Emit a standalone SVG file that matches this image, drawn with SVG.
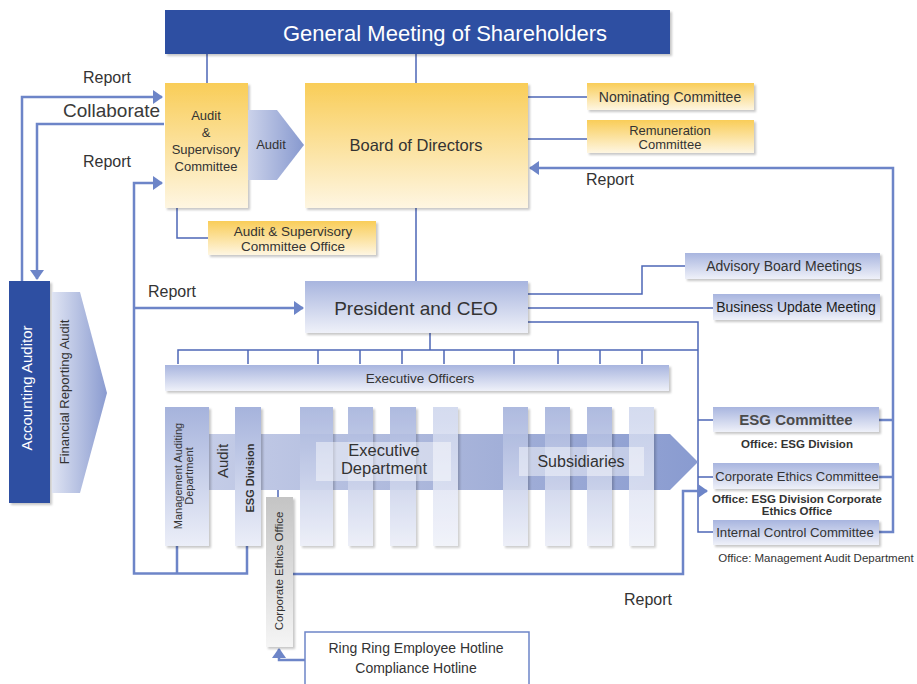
<svg xmlns="http://www.w3.org/2000/svg" width="917" height="684" viewBox="0 0 917 684">
<defs>
<style>
text{font-family:"Liberation Sans",Arial,sans-serif;fill:#333;}
.c{text-anchor:middle;}
.w{fill:#fff;}
.org{fill:none;stroke:#4d67b6;stroke-width:1.5;}
.rep{fill:none;stroke:#6d85c8;stroke-width:2.5;}
.yel{fill:url(#gYel);filter:url(#sh);}
.blu{fill:url(#gBlu);filter:url(#sh);}
.dark{fill:#2f4fa2;filter:url(#sh);}
.col{fill:url(#gCol);filter:url(#sh);}
.colL{fill:url(#gColL);filter:url(#sh);}
.lbl{fill:#fff;fill-opacity:0.45;}
</style>
<linearGradient id="gYel" x1="0" y1="0" x2="0" y2="1"><stop offset="0" stop-color="#f9cd58"/><stop offset="1" stop-color="#fef6e2"/></linearGradient>
<linearGradient id="gBlu" x1="0" y1="0" x2="0" y2="1"><stop offset="0" stop-color="#a8b5df"/><stop offset="1" stop-color="#eff1f9"/></linearGradient>
<linearGradient id="gCol" x1="0" y1="0" x2="0" y2="1"><stop offset="0" stop-color="#a6b3dc"/><stop offset="1" stop-color="#ebeef8"/></linearGradient>
<linearGradient id="gColL" x1="0" y1="0" x2="0" y2="1"><stop offset="0" stop-color="#cdd5ed"/><stop offset="1" stop-color="#eff1f9"/></linearGradient>
<linearGradient id="gGray" x1="0" y1="0" x2="0" y2="1"><stop offset="0" stop-color="#c4c4c4"/><stop offset="1" stop-color="#f5f5f5"/></linearGradient>
<linearGradient id="gBand" gradientUnits="userSpaceOnUse" x1="209" y1="0" x2="698" y2="0"><stop offset="0" stop-color="#c4cce7"/><stop offset="0.5" stop-color="#a8b4da"/><stop offset="1" stop-color="#899bd0"/></linearGradient>
<linearGradient id="gAud" x1="0" y1="0" x2="1" y2="0"><stop offset="0" stop-color="#cbd2ea"/><stop offset="1" stop-color="#8799cf"/></linearGradient>
<linearGradient id="gFin" x1="0" y1="0" x2="1" y2="0"><stop offset="0" stop-color="#dfe4f3"/><stop offset="1" stop-color="#8a9bd0"/></linearGradient>
<filter id="sh" x="-10%" y="-10%" width="130%" height="130%"><feDropShadow dx="2" dy="2" stdDeviation="1.2" flood-color="#000" flood-opacity="0.22"/></filter>
<marker id="ah" viewBox="0 0 10 14" refX="9" refY="7" markerWidth="10" markerHeight="14" markerUnits="userSpaceOnUse" orient="auto"><path d="M0,0 L10,7 L0,14 Z" fill="#6d85c8"/></marker>
</defs>
<rect width="917" height="684" fill="#fff"/>

<g id="connectors">
<path class="org" d="M207,54 V83 M416,54 V83 M416,208 V281 M528,97 H587 M528,139 H587 M177,208 V238 H208"/>
<path class="org" d="M528,294 H642 V266 H685 M528,308 H713 M528,322 H698 V532 H713 M698,420 H713 M698,477 H713"/>
<path class="org" d="M430,333 V350 M178,364 V350 H698 M248,350 V364 M318,350 V364 M360,350 V364 M402,350 V364 M444,350 V364 M514,350 V364 M558,350 V364 M600,350 V364 M642,350 V364"/>
<path class="org" d="M261,463 H278 V497"/>
<path class="rep" d="M22,281 V97 H162" marker-end="url(#ah)"/>
<path class="rep" d="M164,124 H37 V279" marker-end="url(#ah)"/>
<path class="rep" d="M177,546 V573.5 M247,546 V573.5 H134 V183 H162" marker-end="url(#ah)"/>
<path class="rep" d="M134,308 H303" marker-end="url(#ah)"/>
<path class="rep" d="M293,574 H683 V491 H707" marker-end="url(#ah)"/>
<path class="rep" d="M879,420 H893 M879,477 H893 M879,532 H893 V168 H530" marker-end="url(#ah)"/>
<path class="rep" d="M305,660 H279 V649" marker-end="url(#ah)"/>
</g>

<g id="general-meeting">
<rect class="dark" x="165" y="10" width="505" height="44"/>
<text class="c w" x="445" y="41" font-size="22">General Meeting of Shareholders</text>
</g>

<g id="audit-committee">
<rect class="yel" x="165" y="83" width="83" height="125"/>
<text class="c" x="206" y="120" font-size="13">Audit</text>
<text class="c" x="206" y="137" font-size="13">&amp;</text>
<text class="c" x="206" y="154" font-size="13">Supervisory</text>
<text class="c" x="206" y="171" font-size="13">Committee</text>
</g>

<g id="audit-arrow">
<path d="M248,110 H277 L304,145 L277,180 H248 Z" fill="url(#gAud)"/>
<text class="c" x="271" y="149" font-size="13">Audit</text>
</g>

<g id="board">
<rect class="yel" x="305" y="83" width="223" height="125"/>
<text class="c" x="416" y="151" font-size="16.5">Board of Directors</text>
</g>

<g id="nominating">
<rect class="yel" x="587" y="83" width="167" height="27"/>
<text class="c" x="670" y="102" font-size="14">Nominating Committee</text>
</g>

<g id="remuneration">
<rect class="yel" x="587" y="120" width="167" height="33"/>
<text class="c" x="670" y="135" font-size="13">Remuneration</text>
<text class="c" x="670" y="149" font-size="13">Committee</text>
</g>

<g id="audit-office">
<rect class="yel" x="208" y="221" width="168" height="34"/>
<text class="c" x="293" y="235.5" font-size="13.5">Audit &amp; Supervisory</text>
<text class="c" x="293" y="251" font-size="13.5">Committee Office</text>
</g>

<g id="accounting-auditor">
<rect class="dark" x="9" y="281" width="41" height="222"/>
<text class="c w" font-size="15" transform="translate(32,388) rotate(-90)">Accounting Auditor</text>
</g>

<g id="financial-audit">
<path d="M52,292 H80 L107,393 L80,493 H52 Z" fill="url(#gFin)"/>
<text class="c" font-size="13" transform="translate(69,392) rotate(-90)">Financial Reporting Audit</text>
</g>

<g id="president">
<rect class="blu" x="305" y="281" width="223" height="52"/>
<text class="c" x="416" y="315" font-size="19">President and CEO</text>
</g>

<g id="advisory">
<rect class="blu" x="685" y="253" width="195" height="26"/>
<text class="c" x="784" y="271" font-size="14">Advisory Board Meetings</text>
</g>

<g id="business-update">
<rect class="blu" x="713" y="294" width="167" height="26"/>
<text class="c" x="796" y="312" font-size="14" style="fill:#222">Business Update Meeting</text>
</g>

<g id="executive-officers">
<rect class="blu" x="165" y="365" width="504" height="26"/>
<text class="c" x="420" y="383" font-size="13.5">Executive Officers</text>
</g>

<g id="band">
<path d="M209,434 H670 L698,462 L670,490 H209 Z" fill="url(#gBand)"/>
</g>

<g id="mgmt-audit">
<rect class="col" x="165" y="407" width="44" height="139"/>
<text class="c" font-size="11" transform="translate(182,476) rotate(-90)">Management Auditing</text>
<text class="c" font-size="11" transform="translate(193,476) rotate(-90)">Department</text>
</g>

<g id="audit-label">
<text class="c" font-size="15" transform="translate(228,461) rotate(-90)">Audit</text>
</g>

<g id="esg-division">
<rect class="col" x="235" y="407" width="26" height="139"/>
<text class="c" font-size="11" font-weight="bold" transform="translate(254,478) rotate(-90)">ESG Division</text>
</g>

<g id="executive-department">
<rect class="col" x="300" y="407" width="33" height="139" opacity="0.9"/>
<rect class="col" x="348" y="407" width="25" height="139" opacity="0.9"/>
<rect class="col" x="390" y="407" width="26" height="139" opacity="0.9"/>
<rect class="colL" x="433" y="407" width="25" height="139" opacity="0.85"/>
<rect class="lbl" x="316" y="442" width="135" height="39"/>
<text class="c" x="384" y="456" font-size="16.5">Executive</text>
<text class="c" x="384" y="474" font-size="16.5">Department</text>
</g>

<g id="subsidiaries">
<rect class="col" x="503" y="407" width="25" height="139" opacity="0.9"/>
<rect class="col" x="545" y="407" width="25" height="139" opacity="0.9"/>
<rect class="col" x="587" y="407" width="25" height="139" opacity="0.9"/>
<rect class="colL" x="629" y="407" width="25" height="139" opacity="0.85"/>
<rect class="lbl" x="519" y="447" width="125" height="29"/>
<text class="c" x="581" y="467" font-size="16">Subsidiaries</text>
</g>

<g id="ethics-office">
<rect x="266" y="497" width="27" height="150" fill="url(#gGray)" filter="url(#sh)"/>
<text class="c" font-size="11.5" transform="translate(283,571) rotate(-90)">Corporate Ethics Office</text>
</g>

<g id="esg-committee">
<rect class="blu" x="713" y="407" width="166" height="25"/>
<text class="c" x="796" y="425" font-size="15" font-weight="bold" style="fill:#4a4a4a">ESG Committee</text>
<text class="c" x="797" y="448" font-size="11.5" font-weight="bold">Office: ESG Division</text>
</g>

<g id="ethics-committee">
<rect class="blu" x="713" y="463" width="166" height="26"/>
<text class="c" x="797" y="481" font-size="13">Corporate Ethics Committee</text>
<text class="c" x="797" y="503" font-size="11.5" font-weight="bold">Office: ESG Division Corporate</text>
<text class="c" x="797" y="515" font-size="11.5" font-weight="bold">Ethics Office</text>
</g>

<g id="internal-control">
<rect class="blu" x="713" y="520" width="166" height="25"/>
<text class="c" x="795" y="537" font-size="13.2">Internal Control Committee</text>
<text class="c" x="816" y="562" font-size="11.5">Office: Management Audit Department</text>
</g>

<g id="hotline">
<rect x="305" y="632" width="224" height="60" fill="#fff" stroke="#6d85c8" stroke-width="1.5"/>
<text class="c" x="416" y="653" font-size="14">Ring Ring Employee Hotline</text>
<text class="c" x="416" y="673" font-size="14">Compliance Hotline</text>
</g>

<g id="labels">
<text x="83" y="83" font-size="16">Report</text>
<text x="63" y="117" font-size="19" style="fill:#3a3a3a">Collaborate</text>
<text x="83" y="167" font-size="16">Report</text>
<text x="148" y="297" font-size="16">Report</text>
<text x="586" y="185" font-size="16">Report</text>
<text x="624" y="605" font-size="16">Report</text>
</g>
</svg>
